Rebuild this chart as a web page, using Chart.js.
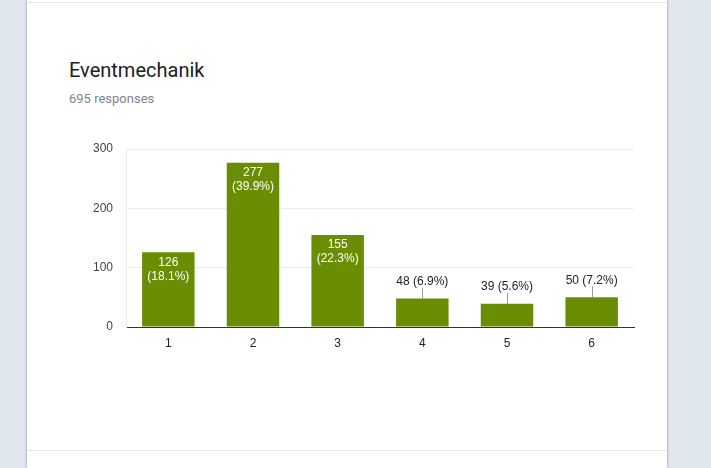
<!DOCTYPE html>
<html>
<head>
<meta charset="UTF-8">
<title>Eventmechanik</title>
<script src="https://cdn.jsdelivr.net/npm/chart.js"></script>
<style>
  html, body { margin: 0; padding: 0; width: 711px; height: 468px; background: #e0e7ef; overflow: hidden; }
  .card { position: absolute; left: 27px; top: 0; width: 640px; height: 468px; background: #fff;
          box-shadow: -1px 0 2px rgba(0,0,0,0.18), 1px 0 2px rgba(0,0,0,0.18); }
  .rule { position: absolute; left: 0; width: 640px; height: 1px; background: #e6e6e6; }
  .title { position: absolute; left: 42px; top: 58px; font: 20px Roboto, sans-serif; color: #202124; }
  .sub { position: absolute; left: 42px; top: 91px; font: 13px Roboto, sans-serif; color: #80868b; }
  #chart { position: absolute; left: 0; top: 0; }
</style>
</head>
<body>
  <div class="card">
    <div class="rule" style="top:2px"></div>
    <div class="rule" style="top:450px"></div>
    <div class="title">Eventmechanik</div>
    <div class="sub">695 responses</div>
  </div>
  <canvas id="chart" width="711" height="468"></canvas>

  <script>
    const categories = ['1', '2', '3', '4', '5', '6'];
    const counts = [126, 277, 155, 48, 39, 50];
    const percents = ['18.1%', '39.9%', '22.3%', '6.9%', '5.6%', '7.2%'];
    const yTicks = [0, 100, 200, 300];

    // draw value labels: inside tall bars, above small ones with a leader line
    const barLabels = {
      id: 'barLabels',
      afterDatasetsDraw(chart) {
        const ctx = chart.ctx;
        const meta = chart.getDatasetMeta(0);
        ctx.save();
        ctx.font = '12px "Liberation Sans", Arial, sans-serif';
        ctx.textAlign = 'center';
        meta.data.forEach((bar, i) => {
          const x = bar.x, top = bar.y;
          if (counts[i] > 100) {
            ctx.fillStyle = '#fff';
            ctx.textBaseline = 'top';
            ctx.fillText(String(counts[i]), x, top + 4);
            ctx.fillText('(' + percents[i] + ')', x, top + 18);
          } else {
            ctx.strokeStyle = '#999';
            ctx.lineWidth = 1;
            ctx.beginPath();
            ctx.moveTo(Math.round(x) + 0.5, top);
            ctx.lineTo(Math.round(x) + 0.5, top - 11);
            ctx.stroke();
            ctx.fillStyle = '#222';
            ctx.textBaseline = 'bottom';
            ctx.fillText(counts[i] + ' (' + percents[i] + ')', x, top - 11);
          }
        });
        ctx.restore();
      }
    };

    new Chart(document.getElementById('chart').getContext('2d'), {
      type: 'bar',
      data: {
        labels: categories,
        datasets: [{
          data: counts,
          backgroundColor: '#6a8e03',
          categoryPercentage: 1,
          barPercentage: 0.62
        }]
      },
      options: {
        responsive: false,
        animation: false,
        layout: { padding: { left: 91, right: 77, top: 149, bottom: 115 } },
        plugins: { legend: { display: false }, tooltip: { enabled: false } },
        scales: {
          x: {
            grid: {
              drawTicks: false,
              color: c => (c.index === 6 ? '#ebebeb' : 'rgba(0,0,0,0)')
            },
            border: { color: '#333', width: 1 },
            ticks: { color: '#222', padding: 9, font: { size: 12, family: '"Liberation Sans", Arial' } },
            afterFit: s => { s.height = 26; }
          },
          y: {
            min: 0, max: 300,
            afterBuildTicks: s => { s.ticks = yTicks.map(v => ({ value: v })); },
            grid: { drawTicks: false, color: c => (c.tick && c.tick.value === 0 ? 'rgba(0,0,0,0)' : '#ebebeb') },
            border: { color: '#ebebeb' },
            ticks: { color: '#444', padding: 13, font: { size: 12, family: '"Liberation Sans", Arial' } },
            afterFit: s => { s.width = 35; }
          }
        }
      },
      plugins: [barLabels]
    });
  </script>
</body>
</html>
